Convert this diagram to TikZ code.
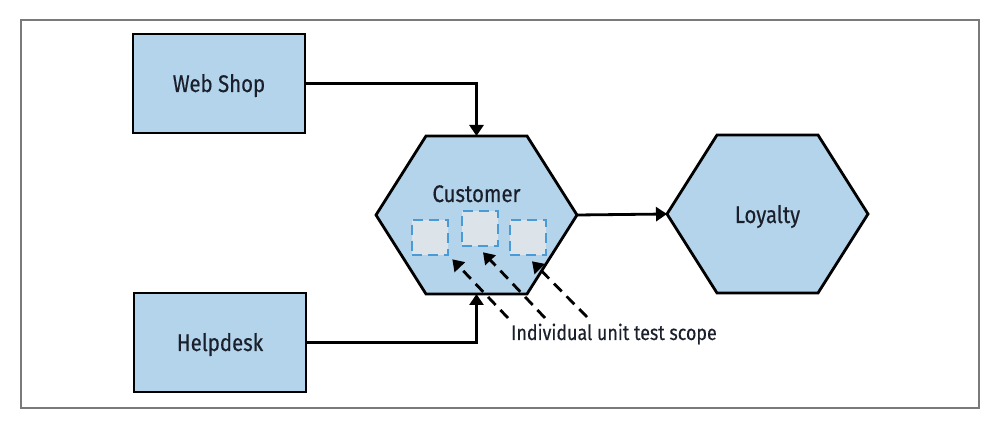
\documentclass[tikz,border=0pt]{standalone}
\usepackage{fontspec}
\setmainfont{Fira Sans}[FakeStretch=0.85,FakeBold=0.4]
\usetikzlibrary{arrows.meta}
\definecolor{boxblue}{HTML}{B3D4EA}
\definecolor{unitfill}{HTML}{DCE3E9}
\definecolor{unitline}{HTML}{4A9AD5}
\definecolor{framegray}{HTML}{7A7A7A}
\definecolor{txt}{HTML}{1A1F2B}
\begin{document}
\begin{tikzpicture}[x=1pt,y=-1pt,
  box/.style={draw=black, line width=2.8pt, fill=boxblue, minimum width=172pt, minimum height=99pt,
    font=\fontsize{24}{28}\selectfont, text=txt, text height=17pt, text depth=0pt},
  hexshape/.style={draw=black, line width=2.8pt, fill=boxblue, line join=miter},
  hextext/.style={font=\fontsize{24}{28}\selectfont, text=txt, inner sep=0pt},
  annot/.style={font=\fontsize{21}{25}\selectfont, text=txt, inner sep=0pt},
  conn/.style={line width=2.8pt, -{Triangle[length=11pt,width=14pt]}},
  dconn/.style={conn, dash pattern=on 11pt off 7pt},
  unit/.style={draw=unitline, fill=unitfill, line width=2.6pt, dash pattern=on 10pt off 6pt,
    minimum width=36pt, minimum height=35pt, inner sep=0pt},
]
\useasboundingbox (0,0) rectangle (997,422);
\draw[framegray, line width=1.6pt] (21,20) rectangle (979,408);

% boxes
\node[box] (web) at (219,83.5) {Web Shop};
\node[box] (help) at (220,342.5) {Helpdesk};

% Customer hexagon
\coordinate (cL) at (376,215);
\coordinate (cTL) at (426,136);
\coordinate (cTR) at (527,136);
\coordinate (cR) at (577,215);
\coordinate (cBR) at (527,294);
\coordinate (cBL) at (426,294);
\coordinate (cT) at (476.5,136);
\coordinate (cB) at (476.5,294);
\draw[hexshape] (cL) -- (cTL) -- (cTR) -- (cR) -- (cBR) -- (cBL) -- cycle;
\node[hextext, anchor=base] (cust) at (476.5,202) {Customer};

% Loyalty hexagon
\coordinate (lL) at (667,214);
\coordinate (lTL) at (717,135);
\coordinate (lTR) at (818,135);
\coordinate (lR) at (868,214);
\coordinate (lBR) at (818,293);
\coordinate (lBL) at (717,293);
\draw[hexshape] (lL) -- (lTL) -- (lTR) -- (lR) -- (lBR) -- (lBL) -- cycle;
\node[hextext, anchor=base] (loy) at (767.5,223) {Loyalty};

% unit test scopes
\node[unit] (u1) at (430,237.5) {};
\node[unit] (u2) at (480,228.5) {};
\node[unit] (u3) at (528,237.5) {};

% connectors
\draw[conn] (web.east) -| (cT);
\draw[conn] (help.east) -| (cB);
\draw[conn] (cR) -- (lL);

% annotation
\node[annot, anchor=base west] (scope) at (511,340) {Individual unit test scope};
\coordinate (t1) at (508,318);
\coordinate (t2) at (545,318);
\coordinate (t3) at (587,317);
\draw[dconn] (t1) -- ([shift={(3,3)}]u1.south east);
\draw[dconn] (t2) -- ([shift={(3,5)}]u2.south);
\draw[dconn] (t3) -- ([shift={(4,5)}]u3.south);
\end{tikzpicture}
\end{document}
